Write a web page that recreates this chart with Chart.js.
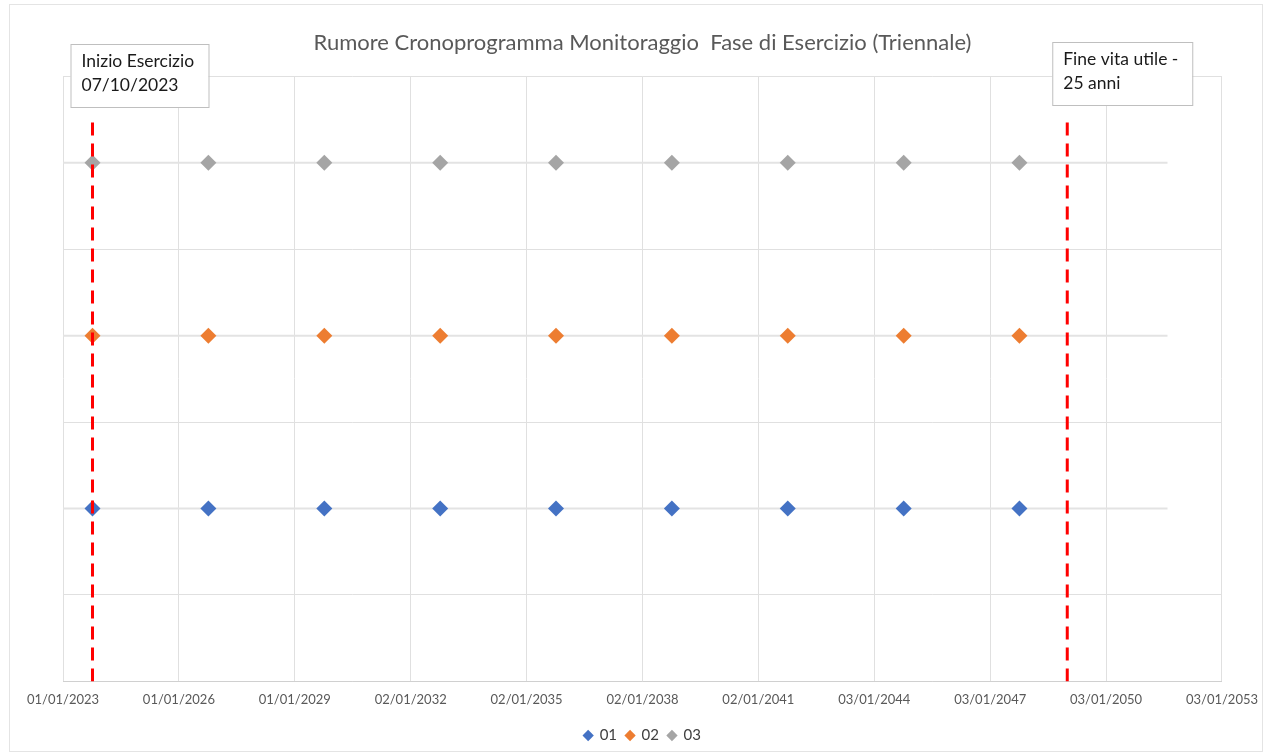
<!DOCTYPE html>
<html>
<head>
<meta charset="utf-8">
<script src="https://cdn.jsdelivr.net/npm/chart.js@4.4.0/dist/chart.umd.min.js"></script>
<style>
  html, body { margin: 0; padding: 0; background: #fff; }
  #wrap { position: relative; width: 1269px; height: 753px; }
  #frame { position: absolute; left: 9px; top: 4px; width: 1252px; height: 746px; border: 1px solid #e4e4e4; pointer-events: none; }
</style>
</head>
<body>
<div id="wrap">
  <div id="frame"></div>
  <canvas id="chart" width="1269" height="753"></canvas>
</div>
<script>
// ---- data ----
const seriesNames = ['01', '02', '03'];
const seriesColors = ['#4472C4', '#ED7D31', '#A5A5A5'];
const rowValues = [1, 2, 3];
const surveyDates = ['2023-10-07', '2026-10-07', '2029-10-07', '2032-10-07', '2035-10-07',
                     '2038-10-07', '2041-10-07', '2044-10-07', '2047-10-07'];
const axisStart = '2023-01-01';
const axisEnd = '2053-01-03';
const tickStepDays = 1096;
const yMax = 3.5;
const yGridValues = [0, 0.5, 1.5, 2.5, 3.5];
const rowLineEnd = '2051-08-07';
const startDate = '2023-10-07';
const endDate = '2049-01-01';
const refLineTop = 3.25;
const startLabel = ['Inizio Esercizio', '07/10/2023'];
const endLabel = ['Fine vita utile -', '25 anni'];
const chartTitle = 'Rumore Cronoprogramma Monitoraggio  Fase di Esercizio (Triennale)';

const DAY = 86400000;
const toMs = s => Date.parse(s + 'T00:00:00Z');
const pad = n => String(n).padStart(2, '0');
function fmtDate(ms) {
  const d = new Date(ms);
  return pad(d.getUTCDate()) + '/' + pad(d.getUTCMonth() + 1) + '/' + d.getUTCFullYear();
}

const FONT = 'Lato, "Open Sans", sans-serif';

// series markers
const datasets = [];
seriesNames.forEach((name, i) => {
  datasets.push({
    label: name,
    data: surveyDates.map(d => ({ x: toMs(d), y: rowValues[i] })),
    showLine: false,
    pointStyle: 'rectRot',
    pointRadius: 8,
    pointHoverRadius: 8,
    backgroundColor: seriesColors[i],
    borderColor: seriesColors[i],
    borderWidth: 0,
    order: 1
  });
});

// light horizontal guide along each row
rowValues.forEach(v => {
  datasets.push({
    label: '_row',
    data: [{ x: toMs(axisStart), y: v }, { x: toMs(rowLineEnd), y: v }],
    showLine: true,
    borderColor: '#E3E3E3',
    borderWidth: 2,
    pointRadius: 0,
    order: 5
  });
});

// red dashed reference lines
[startDate, endDate].forEach(d => {
  datasets.push({
    label: '_ref',
    data: [{ x: toMs(d), y: 0 }, { x: toMs(d), y: refLineTop }],
    showLine: true,
    borderColor: '#FF0000',
    borderWidth: 3,
    borderDash: [13, 8],
    pointRadius: 0,
    order: 0
  });
});

// text boxes next to the reference lines
const boxPlugin = {
  id: 'boxes',
  afterDraw(chart) {
    const ctx = chart.ctx;
    const xs = chart.scales.x;
    const boxes = [
      { lines: startLabel, left: xs.getPixelForValue(toMs(startDate)) - 22, top: 44, w: 138, h: 63 },
      { lines: endLabel, left: xs.getPixelForValue(toMs(endDate)) - 15, top: 42, w: 140, h: 63 }
    ];
    ctx.save();
    boxes.forEach(b => {
      ctx.fillStyle = '#fff';
      ctx.fillRect(b.left, b.top, b.w, b.h);
      ctx.strokeStyle = '#BFBFBF';
      ctx.lineWidth = 1;
      ctx.strokeRect(b.left + 0.5, b.top + 0.5, b.w, b.h);
      ctx.fillStyle = '#1a1a1a';
      ctx.font = '17.5px ' + FONT;
      ctx.textBaseline = 'alphabetic';
      b.lines.forEach((t, k) => ctx.fillText(t, b.left + 11, b.top + 23 + k * 24));
    });
    ctx.restore();
  }
};

new Chart(document.getElementById('chart'), {
  type: 'scatter',
  data: { datasets },
  options: {
    responsive: false,
    animation: false,
    layout: { padding: { left: 63, right: 47, top: 0, bottom: 0 } },
    plugins: {
      title: {
        display: true,
        text: chartTitle,
        color: '#595959',
        font: { family: FONT, size: 22, weight: 'normal' },
        padding: { top: 30, bottom: 20 }
      },
      legend: {
        position: 'bottom',
        labels: {
          filter: item => !item.text.startsWith('_'),
          usePointStyle: true,
          pointStyle: 'rectRot',
          boxWidth: 8,
          boxHeight: 8,
          padding: 9,
          color: '#404040',
          font: { family: FONT, size: 15 }
        }
      },
      tooltip: { enabled: false }
    },
    scales: {
      x: {
        type: 'linear',
        min: toMs(axisStart),
        max: toMs(axisEnd),
        afterBuildTicks: s => {
          const t = [];
          for (let v = toMs(axisStart); v <= toMs(axisEnd) + 1; v += tickStepDays * DAY) t.push({ value: v });
          s.ticks = t;
        },
        ticks: {
          callback: v => fmtDate(v),
          autoSkip: false,
          maxRotation: 0,
          padding: 11,
          color: '#595959',
          font: { family: FONT, size: 13 }
        },
        grid: { color: '#E0E0E0', drawTicks: false },
        border: { color: '#D0D0D0' }
      },
      y: {
        min: 0,
        max: yMax,
        afterBuildTicks: s => { s.ticks = yGridValues.map(v => ({ value: v })); },
        ticks: { display: false },
        grid: { color: '#E0E0E0', drawTicks: false },
        border: { display: false }
      }
    }
  },
  plugins: [boxPlugin]
});
</script>
</body>
</html>
